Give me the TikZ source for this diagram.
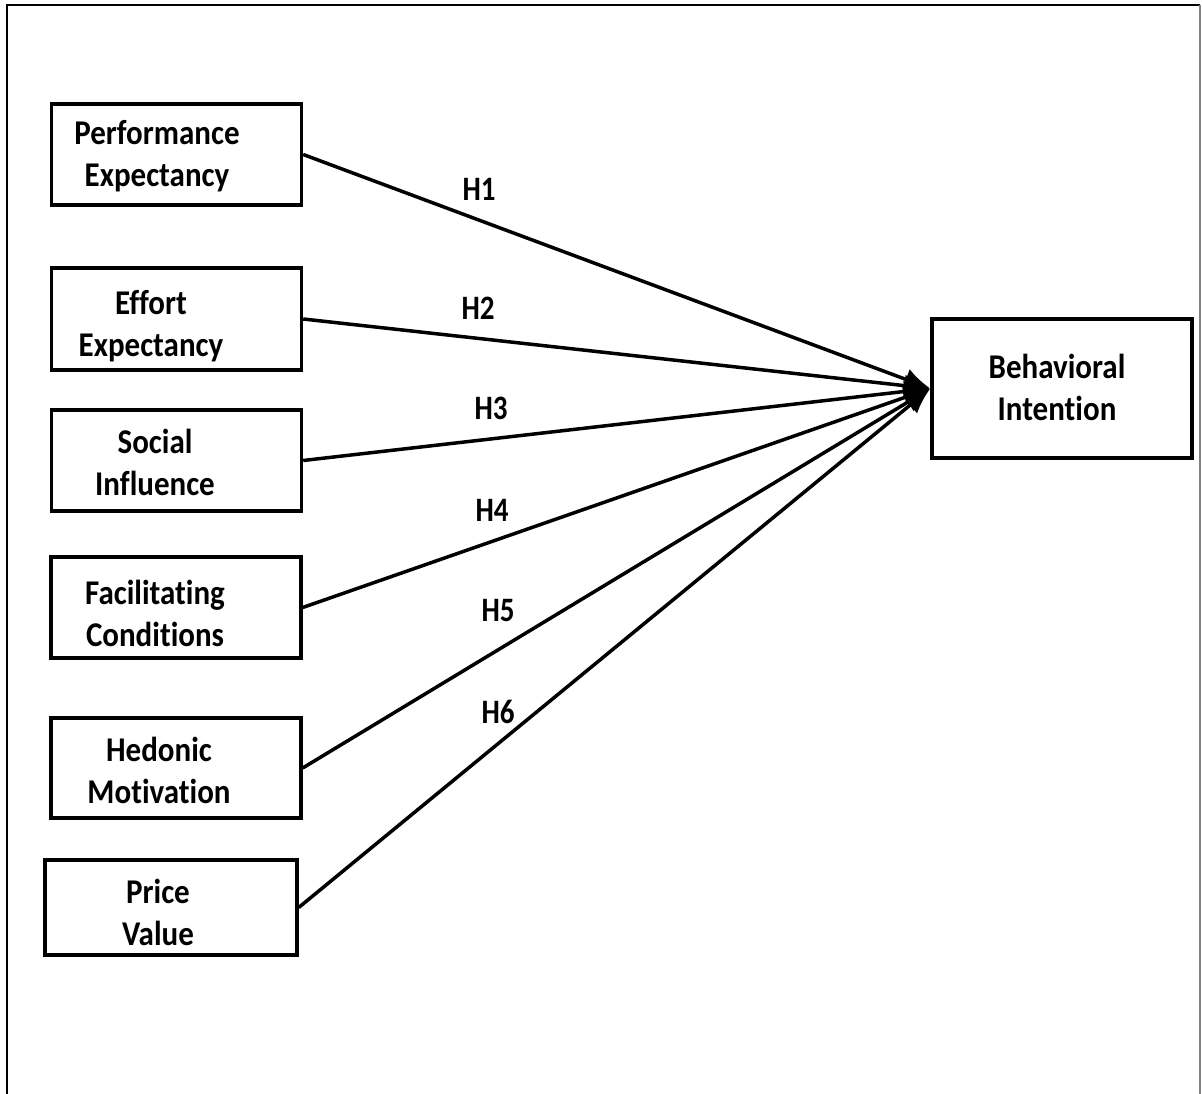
\documentclass[tikz,border=0pt]{standalone}
\usepackage{fontspec}
\setmainfont{Carlito}[Ligatures={NoCommon}]
\usetikzlibrary{arrows.meta}

% Bold label text, slightly stretched vertically
\newcommand{\lbltext}[1]{\scalebox{1}[1.12]{\begin{tabular}{@{}c@{}}#1\end{tabular}}}

\begin{document}
\begin{tikzpicture}[x=1pt,y=-1pt,
  box/.style={draw=black,line width=3.4pt,inner sep=0pt,minimum width=250pt,minimum height=101pt},
  lbl/.style={inner sep=0pt,font=\fontsize{31}{38}\selectfont\bfseries},
  hyp/.style={inner sep=0pt,font=\fontsize{29}{34}\selectfont\bfseries},
  link/.style={line width=3.5pt,-{Latex[length=26pt,width=22pt]}}]

\useasboundingbox (0,0) rectangle (1202,1094);

% outer frame (open at the bottom)
\draw[line width=2.2pt,black] (7,1100) -- (7,5) -- (1200,5);
\draw[line width=2.2pt,black!50] (1200,5) -- (1200,1100);

% constructs
\node[box] (pe) at (176.5,154.5) {};
\node[box,minimum height=102pt] (ee) at (176.5,319) {};
\node[box] (si) at (176.5,460.5) {};
\node[box] (fc) at (176,607.5) {};
\node[box,minimum height=100pt] (hm) at (176,768) {};
\node[box,minimum width=252pt,minimum height=95pt] (pv) at (171,907.5) {};
\node[box,minimum width=260pt,minimum height=139pt] (bi) at (1062,388.5) {};

% construct names
\node[lbl] (pe-t) at (157,157) {\lbltext{Performance\\Expectancy}};
\node[lbl] (ee-t) at (151,327) {\lbltext{Effort\\Expectancy}};
\node[lbl] (si-t) at (155,466) {\lbltext{Social\\Influence}};
\node[lbl] (fc-t) at (155,617) {\lbltext{Facilitating\\Conditions}};
\node[lbl] (hm-t) at (159,774) {\lbltext{Hedonic\\Motivation}};
\node[lbl] (pv-t) at (158,916) {\lbltext{Price\\Value}};
\node[lbl] (bi-t) at (1057,391) {\lbltext{Behavioral\\Intention}};

% hypothesised paths
\draw[link] (pe.east) -- (bi.west);
\draw[link] (ee.east) -- (bi.west);
\draw[link] (si.east) -- (bi.west);
\draw[link] (fc.east) -- (bi.west);
\draw[link] (hm.east) -- (bi.west);
\draw[link] (pv.east) -- (bi.west);

% hypothesis labels
\node[hyp] (h1) at (479,189) {\scalebox{1}[1.18]{H1}};
\node[hyp] (h2) at (478,308) {\scalebox{1}[1.18]{H2}};
\node[hyp] (h3) at (491,408) {\scalebox{1}[1.18]{H3}};
\node[hyp] (h4) at (492,510) {\scalebox{1}[1.18]{H4}};
\node[hyp] (h5) at (498,611) {\scalebox{1}[1.18]{H5}};
\node[hyp] (h6) at (498,712) {\scalebox{1}[1.18]{H6}};
\end{tikzpicture}
\end{document}
